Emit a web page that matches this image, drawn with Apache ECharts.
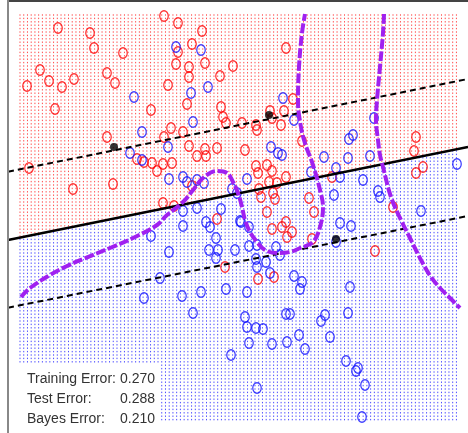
<!DOCTYPE html>
<html><head><meta charset="utf-8">
<script src="https://cdn.jsdelivr.net/npm/echarts@6/dist/echarts.min.js"></script>
<style>html,body{margin:0;padding:0;background:#fff}#c{width:468px;height:433px}</style>
</head><body><div id="c"></div>
<script>
// Values (picture units: x to the right, y downward)
const redPoints = [[58,28],[90,33],[94,48],[123,53],[40,70],[49,81],[62,87],[74,79],[27,86],[107,73],[115,83],[55,109],[151,110],[107,137],
[164,16],[178,23],[202,31],[192,44],[178,52],[176,64],[189,67],[189,77],[205,63],[220,76],[233,66],[168,85],[187,104],[221,107],[223,117],[226,123],
[171,128],[164,137],[183,132],[189,146],[205,149],[217,148],[197,156],[206,156],[29,168],[113,184],[73,189],[137,159],[144,162],[152,163],[157,171],
[163,164],[172,163],[192,186],[163,203],[174,206],[286,48],[293,99],[284,111],[270,111],[272,118],[281,125],[256,125],[257,130],[242,123],[245,150],
[302,141],[416,137],[414,151],[423,167],[416,173],[256,166],[258,173],[267,165],[272,171],[286,177],[269,182],[277,183],[259,189],[261,197],[273,193],
[275,199],[267,212],[332,177],[309,198],[314,212],[393,207],[217,219],[225,267],[286,222],[282,227],[272,229],[292,232],[287,237],[274,277],[258,279],
[312,239],[375,251]];
const bluePoints = [[134,97],[142,132],[176,47],[201,50],[191,93],[208,87],[193,122],[168,147],[130,153],[142,160],[169,179],[183,177],[187,182],[197,180],
[204,183],[232,189],[237,193],[247,179],[283,98],[294,120],[271,147],[278,153],[282,155],[311,172],[324,157],[336,168],[340,177],[334,195],[348,158],
[349,139],[353,135],[370,156],[363,180],[374,118],[378,191],[380,197],[421,211],[457,164],[340,223],[351,226],[336,242],[350,287],[183,211],[197,208],
[206,222],[210,227],[221,209],[240,221],[249,227],[183,226],[216,238],[151,236],[169,252],[209,250],[218,250],[216,258],[235,250],[249,246],[256,259],
[266,262],[257,267],[276,247],[160,278],[226,289],[270,273],[294,276],[302,282],[300,289],[247,292],[241,222],[280,255],[257,245],[245,317],[247,327],
[256,328],[263,329],[286,314],[290,314],[325,315],[321,321],[348,313],[299,335],[330,337],[249,343],[272,344],[287,342],[305,349],[231,355],[346,361],
[356,371],[358,368],[365,385],[257,388],[362,417],[182,296],[201,292],[144,298],[193,313]];
const supportPoints = [[114,147],[269,115],[336,239]];
const solidLine = [[8,240],[468,147]];
const upperMargin = [[8,171.7],[468,79]];
const lowerMargin = [[8,307.7],[468,216]];
const bayesCurveA = [[21,297],[30,288],[50,275],[67,266],[83,259],[110,248],[133,238],[157,225],[167,215],[183,202],[193,190],[203,178],[217,171],
[227,173],[233,182],[238,193],[242,207],[245,220],[250,232],[257,242],[265,250],[277,253],[290,252],[300,248],[313,242],[320,227],[323,207],[320,190],
[313,165],[304,140],[299,115],[298,100],[299,67],[302,33],[305,14]];
const bayesCurveB = [[384,14],[383,33],[380,67],[377,100],[376,120],[378,140],[380,155],[383,167],[391,197],[401,220],[411,240],[421,260],[431,277],
[440,288],[450,298],[460,308]];
const errorLabels = ['Training Error:','Test Error:','Bayes Error:'];
const errorValues = ['0.270','0.288','0.210'];

// background classification grid (coloured by side of the solid boundary)
const gridX = [20,460], gridY = [15,420], stepX = 3.73, stepY = 3.4;
function boundaryY(x){const a=solidLine[0],b=solidLine[1];return a[1]+(b[1]-a[1])*(x-a[0])/(b[0]-a[0]);}
const redDots=[], blueDots=[];
for(let x=gridX[0];x<=gridX[1]+0.01;x+=stepX){
  for(let y=gridY[0];y<=gridY[1]+0.01;y+=stepY){
    if(x<160 && y>365) continue;
    (y<boundaryY(x)?redDots:blueDots).push([x,y]);
  }
}
const chart = echarts.init(document.getElementById('c'),null,{renderer:'canvas'});
const purple='#a020f0';
const font='14px "Liberation Sans", Arial, sans-serif';
chart.setOption({
  animation:false,
  grid:{left:8,right:0,top:2,bottom:0},
  xAxis:{type:'value',min:8,max:468,show:false},
  yAxis:{type:'value',min:2,max:433,inverse:true,show:false},
  series:[
    {type:'scatter',data:redDots,symbol:'rect',symbolSize:[1,1.4],itemStyle:{color:'#ff0000',opacity:0.7},silent:true,large:true,largeThreshold:100,z:1},
    {type:'scatter',data:blueDots,symbol:'rect',symbolSize:[1,1.4],itemStyle:{color:'#0000ff',opacity:0.7},silent:true,large:true,largeThreshold:100,z:1},
    {type:'scatter',data:redPoints,symbol:'circle',symbolSize:[8.5,10.5],itemStyle:{color:'rgba(0,0,0,0)',borderColor:'#ff0000',borderWidth:1.4},silent:true,z:2},
    {type:'scatter',data:bluePoints,symbol:'circle',symbolSize:[8.5,10.5],itemStyle:{color:'rgba(0,0,0,0)',borderColor:'#1010ff',borderWidth:1.4},silent:true,z:2},
    {type:'line',data:solidLine,symbol:'none',lineStyle:{color:'#000',width:2.5},silent:true,z:3},
    {type:'line',data:upperMargin,symbol:'none',lineStyle:{color:'#000',width:2,type:[6,4]},silent:true,z:3},
    {type:'line',data:lowerMargin,symbol:'none',lineStyle:{color:'#000',width:2,type:[6,4]},silent:true,z:3},
    {type:'line',data:bayesCurveA,symbol:'none',smooth:0.4,lineStyle:{color:purple,width:4,type:[10,2.5]},silent:true,z:4},
    {type:'line',data:bayesCurveB,symbol:'none',smooth:0.4,lineStyle:{color:purple,width:4,type:[10,2.5]},silent:true,z:4},
    {type:'scatter',data:supportPoints,symbol:'circle',symbolSize:8,itemStyle:{color:'#000'},silent:true,z:5}
  ],
  graphic:[
    {type:'line',shape:{x1:8,y1:1,x2:468,y2:1},style:{stroke:'#444',lineWidth:2},z:10},
    {type:'line',shape:{x1:8,y1:0,x2:8,y2:433},style:{stroke:'#888',lineWidth:2},z:10},
    ...errorLabels.map((t,i)=>({type:'text',left:27,top:372+i*20,style:{text:t,font:font,fill:'#333'},z:10})),
    ...errorValues.map((t,i)=>({type:'text',right:468-155,top:372+i*20,style:{text:t,font:font,fill:'#333'},z:10}))
  ]
});
</script></body></html>
